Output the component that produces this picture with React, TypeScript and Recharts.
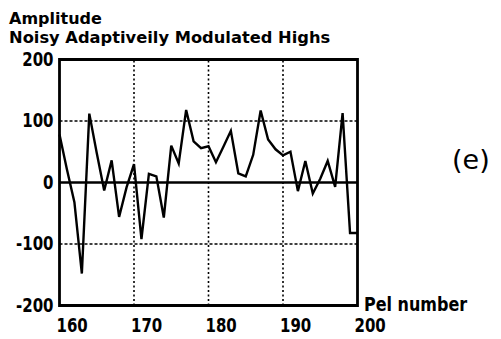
import React from "react";
import {
  LineChart,
  Line,
  XAxis,
  YAxis,
  ReferenceLine,
  ReferenceArea,
} from "recharts";

const pelNumbers = [
  160, 161, 162, 163, 164, 165, 166, 167, 168, 169, 170, 171, 172, 173, 174,
  175, 176, 177, 178, 179, 180, 181, 182, 183, 184, 185, 186, 187, 188, 189,
  190, 191, 192, 193, 194, 195, 196, 197, 198, 199, 200,
];

const amplitude = [
  78, 21, -32, -148, 112, 48, -13, 36, -56, -8, 30, -92, 14, 10, -57, 60, 31,
  118, 67, 56, 59, 33, 58, 84, 15, 10, 45, 117, 70, 54, 44, 50, -14, 35, -18,
  6, 35, -7, 113, -82, -82,
];

const xTicks = [160, 170, 180, 190, 200];
const yTicks = [-200, -100, 0, 100, 200];
const xGrid = [170, 180, 190];
const yGrid = [-100, 100];

const data = pelNumbers.map((pel, i) => ({ pel, value: amplitude[i] }));

const FONT = "'DejaVu Sans', 'Noto Sans', sans-serif";
const INK = "#000";

function XTick({ x, payload }: any) {
  return (
    <g transform={`translate(${x - 3},332) scale(1,1.35)`}>
      <text x={0} y={0} fontFamily={FONT} fontWeight="bold" fontSize={15} fill={INK}>
        {payload.value}
      </text>
    </g>
  );
}

function YTick({ x, y, payload }: any) {
  return (
    <g transform={`translate(${x},${y + 6}) scale(1,1.35)`}>
      <text x={0} y={0} textAnchor="end" fontFamily={FONT} fontWeight="bold" fontSize={15} fill={INK}>
        {payload.value}
      </text>
    </g>
  );
}

export default function App() {
  return (
    <div style={{ position: "absolute", left: 0, top: 0, width: 501, height: 339, background: "#fff" }}>
      <LineChart
        width={501}
        height={339}
        data={data}
        margin={{ top: 59.5, right: 143.5, bottom: 0, left: 0 }}
      >
        <XAxis
          dataKey="pel"
          type="number"
          domain={[160, 200]}
          ticks={xTicks}
          tick={<XTick />}
          tickLine={false}
          axisLine={false}
          height={33.5}
        />
        <YAxis
          type="number"
          domain={[-200, 200]}
          ticks={yTicks}
          tick={<YTick />}
          tickLine={false}
          tickSize={0}
          tickMargin={6}
          axisLine={false}
          width={59.5}
        />
        {xGrid.map((g) => (
          <ReferenceLine key={`x${g}`} x={g} stroke={INK} strokeWidth={1.6} strokeDasharray="2 2.5" />
        ))}
        {yGrid.map((g) => (
          <ReferenceLine key={`y${g}`} y={g} stroke={INK} strokeWidth={1.6} strokeDasharray="3 2" />
        ))}
        <ReferenceLine y={0} stroke={INK} strokeWidth={2.5} />
        <ReferenceArea
          x1={160}
          x2={200}
          y1={-200}
          y2={200}
          fill="none"
          stroke={INK}
          strokeWidth={2.8}
          ifOverflow="visible"
        />
        <Line
          type="linear"
          dataKey="value"
          stroke={INK}
          strokeWidth={2.4}
          dot={false}
          isAnimationActive={false}
        />
      </LineChart>
      <svg
        width={501}
        height={339}
        style={{ position: "absolute", left: 0, top: 0, pointerEvents: "none" }}
      >
        <text x={9} y={24} fontFamily={FONT} fontWeight="bold" fontSize={16} fill={INK}>
          Amplitude
        </text>
        <text x={9} y={43} fontFamily={FONT} fontWeight="bold" fontSize={16.3} fill={INK}>
          Noisy Adaptiveily Modulated Highs
        </text>
        <g transform="translate(364,311) scale(1,1.2)">
          <text x={0} y={0} fontFamily={FONT} fontWeight="bold" fontSize={16} fill={INK}>
            Pel number
          </text>
        </g>
        <text x={452} y={169} fontFamily={FONT} fontSize={27} fill={INK}>
          (e)
        </text>
      </svg>
    </div>
  );
}
